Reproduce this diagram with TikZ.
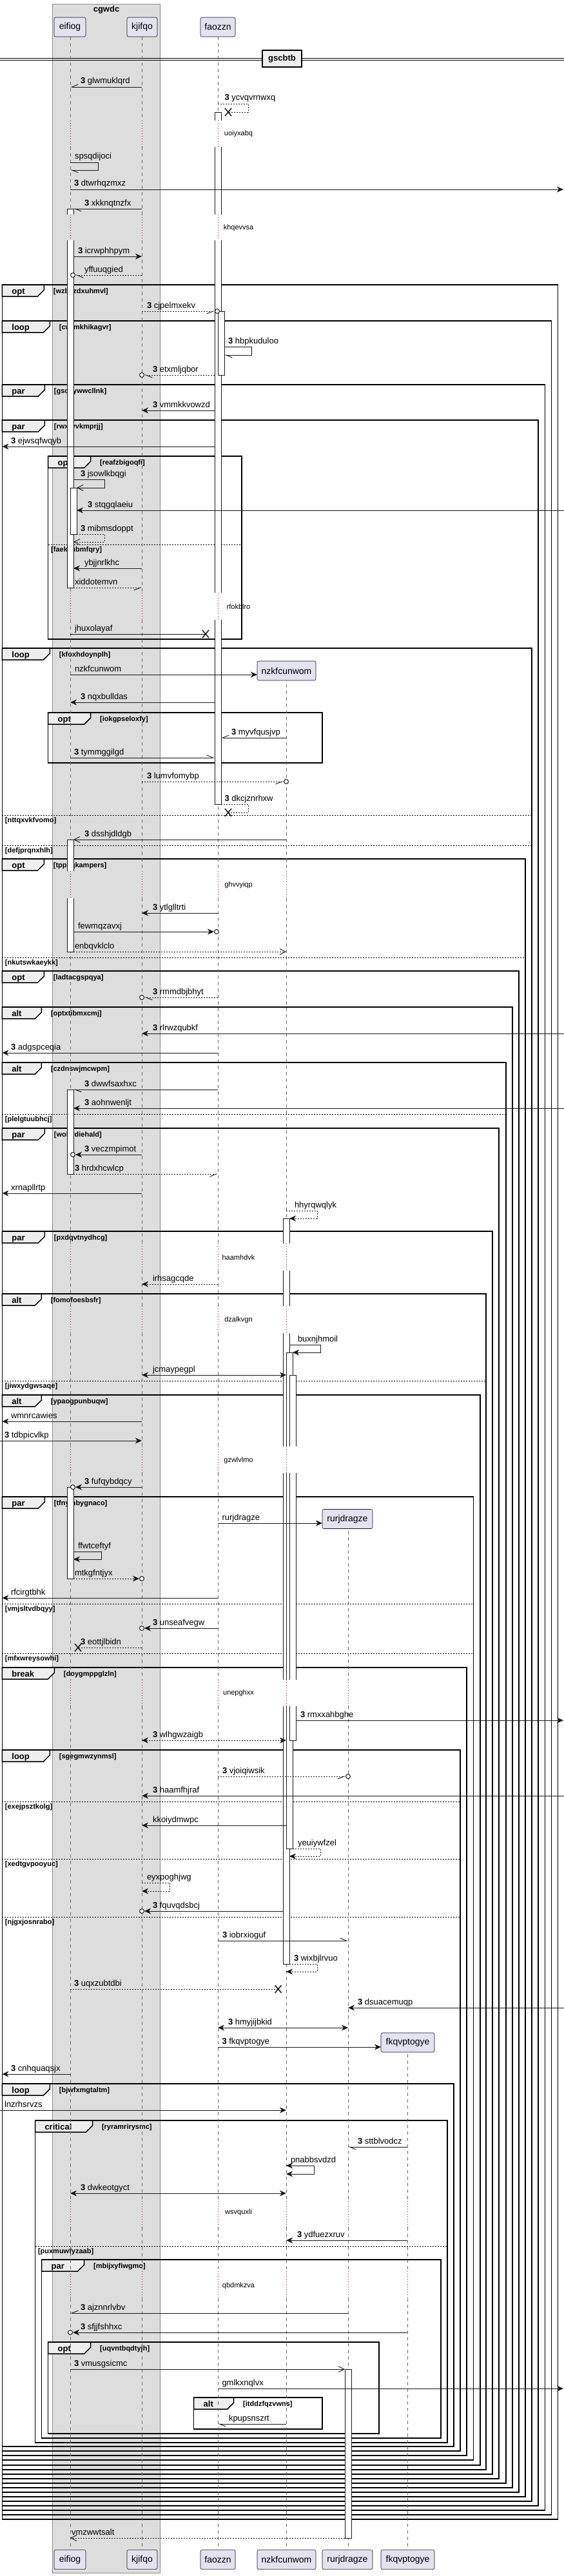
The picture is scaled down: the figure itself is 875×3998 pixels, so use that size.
\documentclass[tikz,border=0pt]{standalone}
\usepackage{fontspec}
\setmainfont{Liberation Sans}
\usetikzlibrary{arrows.meta}
\definecolor{pbox}{HTML}{E2E2F0}
\definecolor{grpc}{HTML}{DDDDDD}
\definecolor{tabc}{HTML}{EEEEEE}
\definecolor{dlyc}{HTML}{A80036}
\definecolor{linec}{HTML}{181818}
\newcommand\fmsg{\fontsize{13}{15}\selectfont}
\newcommand\fgrd{\bfseries\fontsize{11}{13}\selectfont}
\newcommand\nb{\textbf{3}\ }
\newcommand\mesg[6]{\draw[ml,#1] (#2,#4) -- (#3,#4); \node[lab] at (#5,#4-5) {#6};}
\newcommand\selfm[8][]{\draw[ml,#1] (#2,#4) -- (#3,#4) -- (#3,#5) -- (#6,#5); \node[lab] at (#7,#4-5) {#8};}
\newcommand\cend[2]{\draw[line width=1pt,draw=linec,fill=white,solid] (#1,#2) circle[radius=3.5];}
\newcommand\xend[2]{\draw[line width=1.5pt,linec,solid] (#1-5,#2-6) -- (#1+5,#2+6) (#1-5,#2+6) -- (#1+5,#2-6);}
\newcommand\sqfrm[7]{%
 \draw[frm] (#1,#2) rectangle (#3,#4);
 \draw[frm,fill=tabc] (#1,#2) -- (#1+#5,#2) -- (#1+#5,#2+8) -- (#1+#5-10,#2+18) -- (#1,#2+18) -- cycle;
 \node[anchor=base west,font=\bfseries\fmsg] at (#1+15,#2+14.5) {#6};
 \node[anchor=base west,font=\fgrd] at (#1+#5+14.5,#2+13.5) {[#7]};}
\newcommand\elsel[4]{\draw[line width=1pt,dash pattern=on 2pt off 2pt] (#1,#3) -- (#2,#3); \node[anchor=west,font=\fgrd] at (#1+4.5,#3+8.5) {[#4]};}
\newcommand\dly[2]{\node[font=\fontsize{11}{13}\selectfont] at (370,#1) {#2};}
\newcommand\abar[3]{\draw[barst] (#1,#2) rectangle (#1+10,#3);}
\newcommand\abarT[3]{\fill[white] (#1,#2) rectangle (#1+10,#3); \draw[barst] (#1,#3) -- (#1,#2) -- (#1+10,#2) -- (#1+10,#3);}
\newcommand\abarB[3]{\fill[white] (#1,#2) rectangle (#1+10,#3); \draw[barst] (#1,#2) -- (#1,#3) -- (#1+10,#3) -- (#1+10,#2);}
\newcommand\abarO[3]{\fill[white] (#1,#2) rectangle (#1+10,#3); \draw[barst] (#1,#2) -- (#1,#3) (#1+10,#2) -- (#1+10,#3);}
\newcommand\lifeline[3]{%
 \begin{scope}
 \clip (#1-3,#2) rectangle (#1+3,#3);
 \foreach \a/\b in {57/187,228/333,373/920,962/1352,1394/1930,1972/2027,2069/2245,2286/2607,2648/3412,3457/3525,3567/3957}
   {\draw[lifest] (#1,\a) -- (#1,\b);}
 \foreach \a/\b in {187/228,333/373,920/962,1352/1394,1930/1972,2027/2069,2245/2286,2607/2648,3412/3457,3525/3567}
   {\draw[dlyst] (#1,\a) -- (#1,\b);}
 \end{scope}}
\begin{document}
\begin{tikzpicture}[x=1pt,y=-1pt,
  every node/.style={inner sep=0pt,outer sep=0pt},
  lab/.style={font=\fmsg,anchor=base west},
  ml/.style={line width=0.9pt,draw=linec},
  dt/.style={dash pattern=on 2pt off 2pt},
  fa/.style={-{Stealth[length=10pt,width=9pt,inset=3pt]}},
  fb/.style={{Stealth[length=10pt,width=9pt,inset=3pt]}-{Stealth[length=10pt,width=9pt,inset=3pt]}},
  oa/.style={-{Straight Barb[length=9pt,width=9pt]}},
  hl/.style={-{Straight Barb[length=10pt,width=8pt,harpoon]}},
  hs/.style={-{Straight Barb[length=10pt,width=8pt,harpoon,swap]}},
  frm/.style={line width=1.5pt,draw=black},
  barst/.style={draw=linec,line width=0.8pt,fill=white},
  lifest/.style={draw=black!60,line width=0.6pt,dash pattern=on 5pt off 5pt},
  dlyst/.style={draw=dlyc,line width=0.8pt,dash pattern=on 1pt off 3pt},
  part/.style={draw=linec,fill=pbox,rounded corners=2.5pt,line width=0.6pt,minimum height=30pt,font=\fontsize{14}{16}\selectfont}]
\useasboundingbox (0,0) rectangle (875,3998);
% group box
\fill[grpc] (81,6) rectangle (248,3993);
\draw[black!45,line width=0.6pt] (81,6) rectangle (248,3993);
\node[font=\bfseries\fmsg] (grp) at (165,15) {cgwdc};
% separator
\draw[line width=0.8pt] (0,90) -- (875,90) (0,93) -- (875,93);
\node[draw,line width=2pt,fill=tabc,minimum width=61pt,minimum height=26pt,font=\bfseries\fmsg] (sep) at (437.5,91) {gscbtb};
% frames
\sqfrm{3.4}{442}{865.5}{3910}{65}{opt}{wzbazdxuhmvl}
\sqfrm{3.4}{498}{855.4}{3903}{74}{loop}{cwfmkhikagvr}
\sqfrm{3.4}{597}{845.3}{3896}{66}{par}{gsocywwcllnk}
\sqfrm{3.4}{652}{835.2}{3889}{66}{par}{rwxrvvkmprjj}
\sqfrm{74.7}{708}{375}{992}{66}{opt}{reafzbigoqfi}
\elsel{74.7}{375}{845}{faekzubmfqry}
\sqfrm{3.4}{1006}{825}{3882}{74}{loop}{kfoxhdoynplh}
\elsel{3.4}{825}{1265}{nttqxvkfvomo}
\elsel{3.4}{825}{1312}{defjprqnxhlh}
\sqfrm{74.7}{1106}{500}{1184}{66}{opt}{iokgpseloxfy}
\sqfrm{3.4}{1333}{815}{3875}{65}{opt}{tppaqkampers}
\elsel{3.4}{815}{1486}{nkutswkaeykk}
\sqfrm{3.4}{1507}{805}{3868}{65}{opt}{ladtacgspqya}
\sqfrm{3.4}{1563}{795}{3861}{61}{alt}{optxtibmxcmj}
\sqfrm{3.4}{1649}{785}{3854}{61}{alt}{czdnswjmcwpm}
\elsel{3.4}{785}{1729}{plelgtuubhcj}
\sqfrm{3.4}{1751}{774}{3847}{66}{par}{woltydiehald}
\sqfrm{3.4}{1911}{764}{3840}{66}{par}{pxdqvtnydhcg}
\sqfrm{3.4}{2008}{754}{3833}{61}{alt}{fomofoesbsfr}
\elsel{3.4}{754}{2143}{jiwxydgwsaqe}
\sqfrm{3.4}{2165}{745}{3826}{61}{alt}{ypaogpunbuqw}
\sqfrm{3.4}{2323}{734.5}{3818}{66}{par}{tfnymbygnaco}
\elsel{3.4}{734.5}{2489}{vmjsltvdbqyy}
\elsel{3.4}{734.5}{2566}{mfxwreysowhi}
\sqfrm{3.4}{2588}{724}{3811}{81}{break}{doygmppglzln}
\sqfrm{3.4}{2716}{714}{3804}{74}{loop}{sgegmwzynmsl}
\elsel{3.4}{714}{2796}{exejpsztkolg}
\elsel{3.4}{714}{2885}{xedtgvpooyuc}
\elsel{3.4}{714}{2975}{njgxjosnrabo}
\sqfrm{3.4}{3234}{704}{3797}{74}{loop}{bjwfxmgtaltm}
\sqfrm{54.5}{3291}{694}{3791}{89}{critical}{ryramrirysmc}
\elsel{54.5}{694}{3486}{puxmuwfyzaab}
\sqfrm{64.6}{3507}{684}{3784}{66}{par}{mbijxyfiwgmo}
\sqfrm{74.7}{3635}{588}{3777}{66}{opt}{uqvntbqdtyjh}
\sqfrm{300.7}{3721}{500}{3770}{62}{alt}{itddzfqzvwns}
% lifelines
\lifeline{109}{57}{3957}
\lifeline{220}{57}{3957}
\lifeline{338}{57}{3957}
\lifeline{444}{1056}{3957}
\lifeline{540}{2373}{3957}
\lifeline{632}{3186}{3957}
% delays
\dly{208}{uoiyxabq}
\dly{354}{khqevvsa}
\dly{942}{rfokblro}
\dly{1374}{ghvvyiqp}
\dly{1952}{haamhdvk}
\dly{2049}{dzalkvgn}
\dly{2267}{gzwlvlmo}
\dly{2628}{unepghxx}
\dly{3434}{wsvquxli}
\dly{3548}{qbdmkzva}
% participants
\node[part,minimum width=49pt] (eT) at (108.5,42) {eifiog};
\node[part,minimum width=47pt] (kT) at (220.5,42) {kjifqo};
\node[part,minimum width=54pt] (fT) at (338,42) {faozzn};
\node[part,minimum width=91pt] (nC) at (444.5,1041) {nzkfcunwom};
\node[part,minimum width=78pt] (rC) at (539,2357.5) {rurjdragze};
\node[part,minimum width=83pt] (qC) at (632.5,3170) {fkqvptogye};
\node[part,minimum width=49pt] (eB) at (108.5,3972.5) {eifiog};
\node[part,minimum width=47pt] (kB) at (220.5,3972.5) {kjifqo};
\node[part,minimum width=54pt] (fB) at (338,3972.5) {faozzn};
\node[part,minimum width=91pt] (nB) at (444.5,3972.5) {nzkfcunwom};
\node[part,minimum width=78pt] (rB) at (539,3972.5) {rurjdragze};
\node[part,minimum width=83pt] (qB) at (632.5,3972.5) {fkqvptogye};
% activation bars
\abarT{104}{324}{333} \abarB{104}{373}{912} \abar{109}{757}{829}
\abarT{104}{1303}{1352} \abarB{104}{1394}{1477}
\abar{104}{1691}{1822} \abar{104}{2308}{2450}
\abarT{333}{174}{187} \abarO{333}{228}{333} \abarO{333}{373}{920} \abarB{333}{962}{1248}
\abar{338}{483}{582}
\abarT{439}{1891}{1930} \abarO{439}{1972}{2027} \abarO{439}{2069}{2245} \abarO{439}{2286}{2607} \abarB{439}{2648}{3048}
\abarT{444}{2099}{2245} \abarO{444}{2286}{2607} \abarB{444}{2648}{2869}
\abarT{449}{2134}{2245} \abarO{449}{2286}{2607} \abarB{449}{2648}{2701}
\abar{535}{3677}{3939}
% messages
\mesg{hs}{220}{109}{135}{125}{\nb glwmuklqrd}
\draw[ml,dt] (338,161) -- (385,161) -- (385,174) -- (354,174); \xend{354}{174}
\node[lab] at (348.5,156) {\nb ycvqvrnwxq};
\selfm[hl]{109}{152}{252}{264}{109}{116}{spsqdijoci}
\mesg{fa}{109}{874}{294}{115}{\nb dtwrhqzmxz}
\mesg{hl}{220}{114}{324}{131}{\nb xkknqtnzfx}
\mesg{fa}{114}{220}{398}{121}{\nb icrwphhpym}
\mesg{dt,hl}{220}{117}{427}{131}{yffuuqgied} \cend{113}{427}
\mesg{dt,hs}{220}{333}{483}{228}{\nb cjpelmxekv} \cend{337}{483}
\selfm[hl]{348}{390}{538}{551}{348}{354}{\nb hbpkuduloo}
\mesg{dt,hl}{333}{224}{582}{237}{\nb etxmljqbor} \cend{220}{582}
\mesg{fa}{333}{220}{637}{237}{\nb vmmkkvowzd}
\mesg{fa}{333}{3.4}{693}{17}{\nb ejwsqfwqyb}
\selfm[oa]{114}{162}{744}{757}{119}{125}{\nb jsowlkbqgi}
\mesg{fa}{875}{119}{792}{136}{\nb stqgqlaeiu}
\selfm[dt,oa]{119}{162}{829}{841}{114}{125}{\nb mibmsdoppt}
\mesg{fa}{220}{114}{882}{131}{ybjjnrlkhc}
\mesg{dt,hs}{114}{220}{912}{116}{xiddotemvn}
\mesg{}{109}{319}{984}{116}{jhuxolayaf} \xend{319}{984}
\draw[ml,fa] (109,1047) -- (nC.west |- 0,1047);
\node[lab] at (116,1042) {nzkfcunwom};
\mesg{fa}{333}{109}{1090}{125}{\nb nqxbulldas}
\mesg{hs}{444}{343}{1145}{359}{\nb myvfqusjvp}
\mesg{hl}{109}{333}{1176}{115}{\nb tymmggilgd}
\mesg{dt,hs}{220}{440}{1213}{228}{\nb lumvfomybp} \cend{444}{1213}
\draw[ml,dt] (343,1248) -- (385,1248) -- (385,1261) -- (354,1261); \xend{354}{1261}
\node[lab] at (348.5,1243) {\nb dkcjznrhxw};
\mesg{oa}{444}{114}{1303}{131}{\nb dsshjdldgb}
\mesg{fa}{338}{220}{1417}{237}{\nb ytlglltrti}
\mesg{fa}{114}{332}{1446}{121}{fewmqzavxj} \cend{336}{1446}
\mesg{dt,oa}{114}{444}{1477}{116}{enbqvklclo}
\mesg{dt,hl}{338}{224}{1548}{237}{\nb rmmdbjbhyt} \cend{220}{1548}
\mesg{fa}{875}{220}{1604}{237}{\nb rlrwzqubkf}
\mesg{fa}{338}{3.4}{1634}{17}{\nb adgspceqia}
\mesg{hl}{338}{114}{1691}{131}{\nb dwwfsaxhxc}
\mesg{fa}{875}{114}{1720}{131}{\nb aohnwenljt}
\mesg{fa}{220}{117}{1792}{131}{\nb veczmpimot} \cend{113}{1792}
\mesg{dt,hs}{114}{338}{1822}{116}{\nb hrdxhcwlcp}
\mesg{fa}{220}{3.4}{1852}{17}{xrnapllrtp}
\selfm[dt,fa]{444}{492}{1879}{1891}{449}{457}{hhyrqwqlyk}
\mesg{dt,fa}{338}{220}{1993}{237}{irhsagcqde}
\selfm[fa]{449}{497}{2087}{2099}{454}{462}{buxnjhmoil}
\mesg{fb}{220}{444}{2134}{237}{jcmaypegpl}
\mesg{fa}{220}{3.4}{2206}{17}{wmnrcawies}
\mesg{fa}{0}{220}{2236}{7}{\nb tdbpicvlkp}
\mesg{fa}{220}{117}{2308}{131}{\nb fufqybdqcy} \cend{113}{2308}
\draw[ml,fa] (338,2364) -- (rC.west |- 0,2364);
\node[lab] at (344.5,2359) {rurjdragze};
\selfm[fa]{114}{157}{2408}{2420}{114}{121}{ffwtceftyf}
\mesg{dt,fa}{114}{216}{2450}{116}{mtkgfntjyx} \cend{220}{2450}
\mesg{fa}{338}{3.4}{2480}{17}{rfcirgtbhk}
\mesg{fa}{338}{224}{2527}{237}{\nb unseafvegw} \cend{220}{2527}
\mesg{dt}{220}{121}{2557}{125}{\nb eottjlbidn} \xend{121}{2557}
\mesg{fa}{459}{874}{2670}{466}{\nb rmxxahbghe}
\mesg{dt,fb}{220}{444}{2701}{237}{\nb wlhgwzaigb}
\mesg{dt,hs}{338}{536}{2757}{345}{\nb vjoiqiwsik} \cend{540}{2757}
\mesg{fa}{875}{220}{2787}{237}{\nb haamfhjraf}
\mesg{fa}{444}{220}{2833}{237}{kkoiydmwpc}
\selfm[dt,fa]{454}{497}{2869}{2881}{449}{462}{yeuiywfzel}
\selfm[dt,fa]{220}{263}{2922}{2935}{220}{228}{eyxpoghjwg}
\mesg{fa}{439}{224}{2966}{237}{\nb fquvqdsbcj} \cend{220}{2966}
\mesg{hl}{338}{540}{3012}{345}{\nb iobrxioguf}
\selfm[dt,fa]{449}{492}{3048}{3060}{444}{456}{\nb wixbjlrvuo}
\mesg{dt}{109}{431.6}{3087}{115}{\nb uqxzubtdbi} \xend{431.6}{3087}
\mesg{fa}{875}{540}{3116}{555}{\nb dsuacemuqp}
\mesg{fb}{338}{540}{3147}{354}{\nb hmyjijbkid}
\draw[ml,fa] (338,3177) -- (qC.west |- 0,3177);
\node[lab] at (344.5,3172) {\nb fkqvptogye};
\mesg{fa}{109}{3.4}{3219}{17}{\nb cnhquaqsjx}
\mesg{fa}{0}{444}{3275}{7}{lnzrhsrvzs}
\mesg{hl}{632}{540}{3332}{555}{\nb sttblvodcz}
\draw[ml,fb] (444,3361) -- (487,3361) -- (487,3374) -- (444,3374);
\node[lab] at (451,3356) {pnabbsvdzd};
\mesg{fb}{109}{444}{3404}{125}{\nb dwkeotgyct}
\mesg{fa}{632}{444}{3477}{461}{\nb ydfuezxruv}
\mesg{hs}{540}{109}{3590}{125}{\nb ajznnrlvbv}
\mesg{fa}{632}{113}{3620}{125}{\nb sfjjfshhxc} \cend{109}{3620}
\mesg{oa}{109}{535}{3677}{115}{\nb vmusgsicmc}
\mesg{fa}{338}{874}{3707}{344.5}{gmlkxnqlvx}
\mesg{hl}{444}{338}{3762}{355}{kpupsnszrt}
\mesg{dt,oa}{535}{109}{3939}{111}{vmzwwtsalt}
\end{tikzpicture}
\end{document}
